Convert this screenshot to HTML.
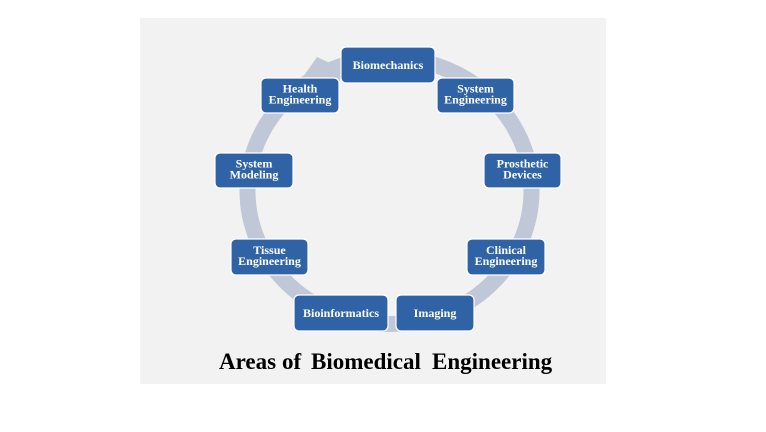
<!DOCTYPE html>
<html>
<head>
<meta charset="utf-8">
<style>
  html, body { margin:0; padding:0; background:#ffffff; }
  body { width:766px; height:432px; overflow:hidden; }
  svg { display:block; }
  .bx { fill:#2f63a6; stroke:#ffffff; stroke-width:1.2; }
  .lb { font-family:"Liberation Serif","Times New Roman",serif; font-weight:bold; font-size:12px; fill:#ffffff; text-anchor:middle; }
  .tt { font-family:"Liberation Serif","Times New Roman",serif; font-weight:bold; font-size:23px; fill:#000000; }
</style>
</head>
<body>
<svg width="766" height="432" viewBox="0 0 766 432" xmlns="http://www.w3.org/2000/svg">
  <rect x="0" y="0" width="766" height="432" fill="#ffffff"/>
  <rect x="140" y="18" width="466" height="366" fill="#f2f2f2"/>

  <!-- ring -->
  <ellipse cx="389.5" cy="191" rx="142" ry="133" fill="none" stroke="#c0c7d6" stroke-width="16"/>
  <!-- arrowhead -->
  <polygon points="303,77 317,57 343,69 334,100 318,92" fill="#c0c7d6"/>

  <!-- boxes -->
  <rect class="bx" x="341" y="47" width="94" height="36" rx="5"/>
  <text class="lb" x="388" y="69">Biomechanics</text>

  <rect class="bx" x="261" y="78" width="78" height="35" rx="5"/>
  <text class="lb" x="300" y="92.5">Health</text>
  <text class="lb" x="300" y="103.5">Engineering</text>

  <rect class="bx" x="437" y="78" width="77" height="35" rx="5"/>
  <text class="lb" x="475.5" y="92.5">System</text>
  <text class="lb" x="475.5" y="103.5">Engineering</text>

  <rect class="bx" x="215" y="153" width="78" height="35" rx="5"/>
  <text class="lb" x="254" y="167.5">System</text>
  <text class="lb" x="254" y="178.5">Modeling</text>

  <rect class="bx" x="484" y="153" width="77" height="35" rx="5"/>
  <text class="lb" x="522.5" y="167.5">Prosthetic</text>
  <text class="lb" x="522.5" y="178.5">Devices</text>

  <rect class="bx" x="231" y="239" width="77" height="36" rx="5"/>
  <text class="lb" x="269.5" y="254">Tissue</text>
  <text class="lb" x="269.5" y="265">Engineering</text>

  <rect class="bx" x="467" y="239" width="78" height="36" rx="5"/>
  <text class="lb" x="506" y="254">Clinical</text>
  <text class="lb" x="506" y="265">Engineering</text>

  <rect class="bx" x="294" y="295" width="94" height="36" rx="5"/>
  <text class="lb" x="341" y="317">Bioinformatics</text>

  <rect class="bx" x="396" y="295" width="78" height="36" rx="5"/>
  <text class="lb" x="435" y="317">Imaging</text>

  <!-- title -->
  <text class="tt" x="219" y="369">Areas</text>
  <text class="tt" x="282" y="369">of</text>
  <text class="tt" x="311" y="369">Biomedical</text>
  <text class="tt" x="432" y="369">Engineering</text>
</svg>
</body>
</html>
